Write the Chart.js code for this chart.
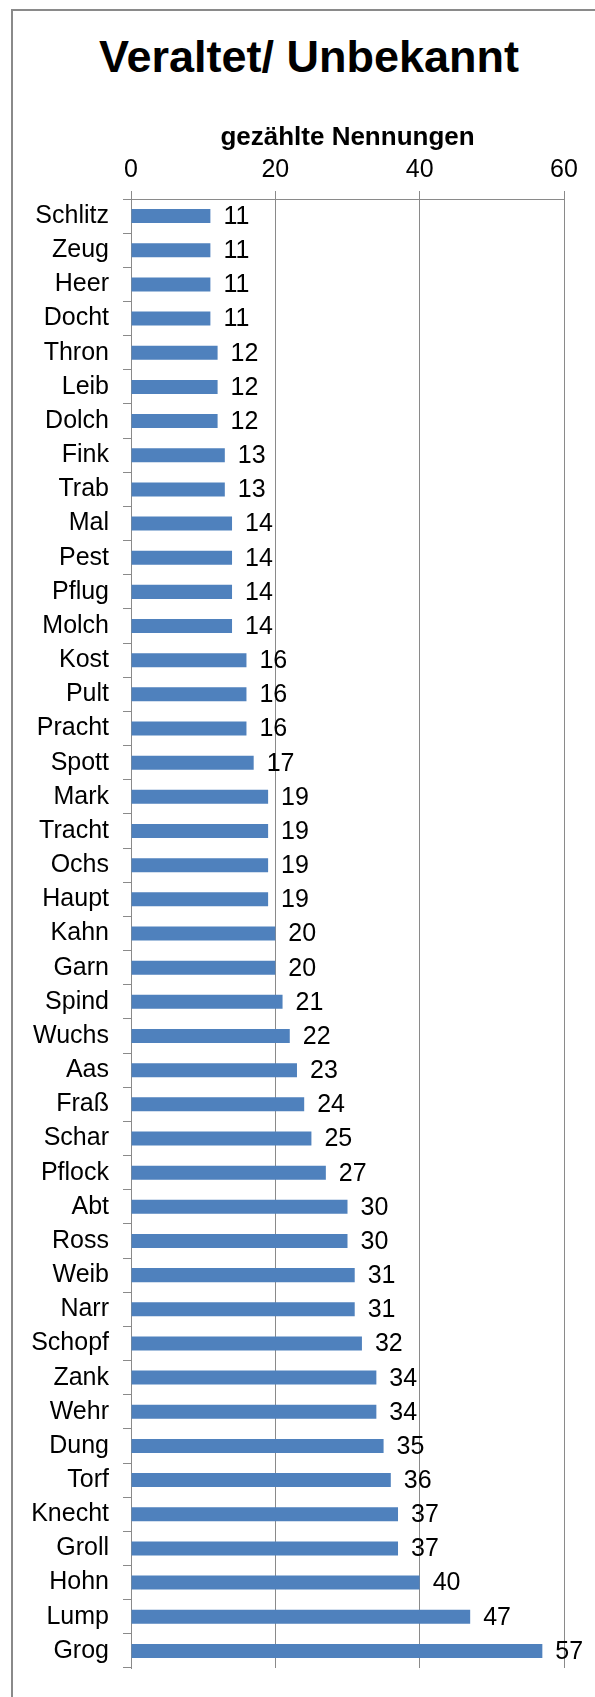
<!DOCTYPE html>
<html>
<head>
<meta charset="utf-8">
<script src="https://cdn.jsdelivr.net/npm/chart.js@4"></script>
<style>
  html, body { margin: 0; padding: 0; background: #fff; overflow: hidden; }
  #wrap { position: relative; width: 595px; height: 1697px; }
  #frame { position: absolute; left: 11px; top: 9px; width: 700px; height: 1800px; border: 2px solid #8a8a8a; }
  #title { position: absolute; left: 0; top: 34px; width: 618px; text-align: center;
           font: bold 45px "Liberation Sans", Arial, sans-serif; line-height: 45px; color: #000; }
  canvas { position: absolute; left: 0; top: 0; }
</style>
</head>
<body>
<div id="wrap">
  <div id="frame"></div>
  <div id="title">Veraltet/ Unbekannt</div>
  <canvas id="chart" width="595" height="1697"></canvas>
</div>
<script>
const categories = ['Schlitz', 'Zeug', 'Heer', 'Docht', 'Thron', 'Leib', 'Dolch', 'Fink', 'Trab', 'Mal',
  'Pest', 'Pflug', 'Molch', 'Kost', 'Pult', 'Pracht', 'Spott', 'Mark', 'Tracht', 'Ochs',
  'Haupt', 'Kahn', 'Garn', 'Spind', 'Wuchs', 'Aas', 'Fraß', 'Schar', 'Pflock', 'Abt',
  'Ross', 'Weib', 'Narr', 'Schopf', 'Zank', 'Wehr', 'Dung', 'Torf', 'Knecht', 'Groll',
  'Hohn', 'Lump', 'Grog'];
const counts = [11, 11, 11, 11, 12, 12, 12, 13, 13, 14,
  14, 14, 14, 16, 16, 16, 17, 19, 19, 19,
  19, 20, 20, 21, 22, 23, 24, 25, 27, 30,
  30, 31, 31, 32, 34, 34, 35, 36, 37, 37,
  40, 47, 57];
const axisTicks = [0, 20, 40, 60];
const axisTitle = 'gezählte Nennungen';

const fontFamily = '"Liberation Sans", Arial, sans-serif';
const gridGray = '#8a8a8a';

// value labels to the right of each bar
const valueLabels = {
  id: 'valueLabels',
  afterDatasetsDraw(chart) {
    const ctx = chart.ctx;
    const meta = chart.getDatasetMeta(0);
    ctx.save();
    ctx.font = '25px ' + fontFamily;
    ctx.fillStyle = '#000';
    ctx.textAlign = 'left';
    ctx.textBaseline = 'middle';
    meta.data.forEach((bar, i) => {
      ctx.fillText(String(counts[i]), bar.x + 13, bar.y + 1);
    });
    ctx.restore();
  }
};

new Chart(document.getElementById('chart'), {
  type: 'bar',
  data: {
    labels: categories,
    datasets: [{
      data: counts,
      backgroundColor: '#4f81bd',
      borderWidth: 0,
      barPercentage: 0.41,
      categoryPercentage: 1
    }]
  },
  options: {
    indexAxis: 'y',
    responsive: false,
    animation: false,
    devicePixelRatio: 1,
    layout: { padding: { left: 0, right: 31, top: 0, bottom: 29 } },
    plugins: {
      legend: { display: false },
      tooltip: { enabled: false },
      title: { display: false }
    },
    scales: {
      x: {
        position: 'top',
        min: axisTicks[0],
        max: axisTicks[axisTicks.length - 1],
        afterBuildTicks: (scale) => { scale.ticks = axisTicks.map(v => ({ value: v })); },
        afterFit: (scale) => { scale.height = 199; },
        ticks: {
          color: '#000',
          padding: 6,
          font: { family: fontFamily, size: 25 }
        },
        grid: { color: gridGray, lineWidth: 1, tickLength: 8, drawTicks: true },
        border: { color: gridGray, width: 1 },
        title: {
          display: true,
          text: axisTitle,
          color: '#000',
          padding: { top: 122, bottom: 0 },
          font: { family: fontFamily, size: 26, weight: 'bold' }
        }
      },
      y: {
        afterFit: (scale) => { scale.width = 131; },
        ticks: {
          color: '#000',
          padding: 14,
          autoSkip: false,
          font: { family: fontFamily, size: 25 }
        },
        grid: { offset: true, drawOnChartArea: false, color: gridGray, tickLength: 8 },
        border: { color: gridGray, width: 1 }
      }
    }
  },
  plugins: [valueLabels]
});
</script>
</body>
</html>
